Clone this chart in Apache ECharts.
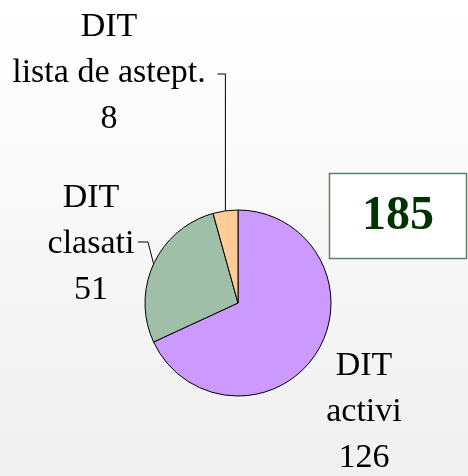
<!DOCTYPE html>
<html>
<head>
<meta charset="utf-8">
<script src="https://cdn.jsdelivr.net/npm/echarts@6/dist/echarts.min.js"></script>
<style>
  html, body { margin: 0; padding: 0; }
  #chart { width: 468px; height: 476px; }
</style>
</head>
<body>
<div id="chart"></div>
<script>
const categories = ['DIT\nactivi', 'DIT\nclasati', 'DIT\nlista de astept.']
const values = [126, 51, 8]
const colors = ['#cc99ff', '#9fbfa8', '#ffcc99']

const total = values.reduce((a, b) => a + b, 0)

// where each label block sits (center), and the elbow of its leader line
const labelSpots = [
  { x: 364, y: 412, line: null },
  { x: 91, y: 244, line: [[148, 242], [138, 242]] },
  { x: 109, y: 73, line: 'up' }
]

const chart = echarts.init(document.getElementById('chart'))

chart.setOption({
  backgroundColor: {
    type: 'linear', x: 0, y: 0, x2: 0, y2: 1,
    colorStops: [
      { offset: 0, color: '#ffffff' },
      { offset: 1, color: '#f0f0f0' }
    ]
  },
  graphic: [
    {
      type: 'rect',
      shape: { x: 329.5, y: 173.5, width: 137, height: 85 },
      style: { fill: '#ffffff', stroke: '#5f7f66', lineWidth: 1.5 }
    },
    {
      type: 'text',
      x: 398,
      y: 217,
      style: {
        text: String(total),
        font: 'bold 48px "Liberation Serif"',
        fill: '#003300',
        align: 'center',
        verticalAlign: 'middle'
      }
    }
  ],
  series: [
    {
      type: 'pie',
      center: [238, 303],
      radius: 93,
      startAngle: 90,
      clockwise: true,
      silent: true,
      data: categories.map((name, i) => ({
        name,
        value: values[i],
        itemStyle: { color: colors[i] }
      })),
      itemStyle: { borderColor: '#000', borderWidth: 1 },
      label: {
        show: true,
        position: 'outside',
        formatter: p => p.name + '\n' + p.value,
        fontFamily: 'Liberation Serif',
        fontSize: 34,
        lineHeight: 46,
        color: '#000',
        align: 'center',
        overflow: 'none'
      },
      labelLine: {
        show: true,
        lineStyle: { color: '#000', width: 1 }
      },
      labelLayout: params => {
        const spot = labelSpots[params.dataIndex]
        const res = { x: spot.x, y: spot.y, align: 'center', verticalAlign: 'middle' }
        const p0 = params.labelLinePoints ? params.labelLinePoints[0] : null
        if (p0 && spot.line === 'up') {
          res.labelLinePoints = [p0, [p0[0], 74], [p0[0] - 8, 74]]
        } else if (p0 && spot.line) {
          res.labelLinePoints = [p0, spot.line[0], spot.line[1]]
        } else if (p0) {
          res.labelLinePoints = [p0, p0, p0]
        }
        return res
      }
    }
  ]
})
</script>
</body>
</html>
